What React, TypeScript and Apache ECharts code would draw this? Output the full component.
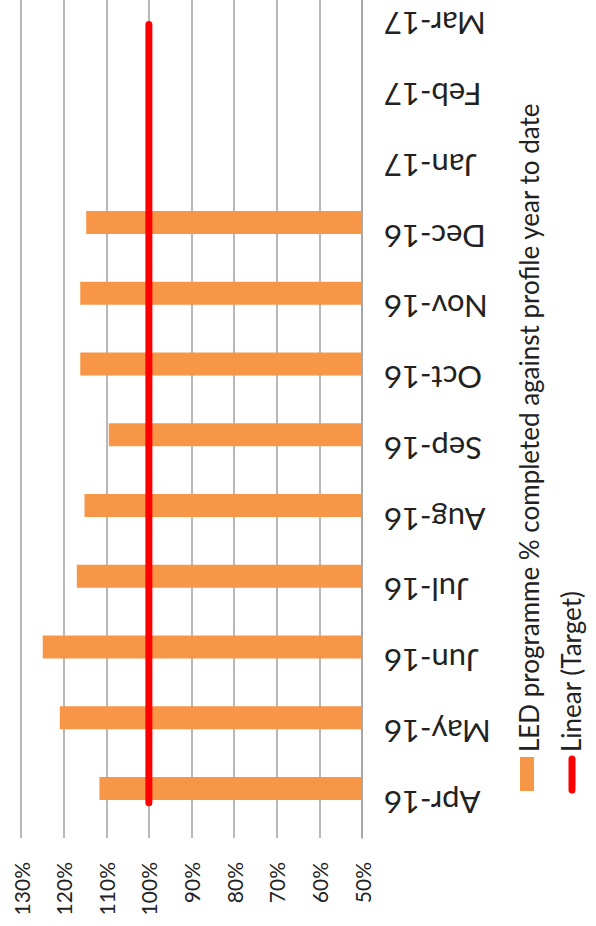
import React, { useEffect, useRef } from "react";
import * as echarts from "echarts";

const categories = ["Apr-16", "May-16", "Jun-16", "Jul-16", "Aug-16", "Sep-16", "Oct-16", "Nov-16", "Dec-16", "Jan-17", "Feb-17", "Mar-17"];
const ledValues = [111.6, 120.9, 124.9, 116.9, 115.1, 109.4, 116.1, 116.1, 114.7, null, null, null];
const targetValues = [100, 100, 100, 100, 100, 100, 100, 100, 100, 100, 100, 100];
const ledName = "LED programme % completed against profile year to date";
const targetName = "Linear (Target)";
const axisMin = 50;
const axisMax = 130;
const axisStep = 10;

const FONT = "Lato, 'Noto Sans', sans-serif";
const SHIFT = 11; // chart canvas starts above the visible page (plot area is cropped at the top)

export default function App() {
  const ref = useRef<HTMLDivElement>(null);
  useEffect(() => {
    if (!ref.current) return;
    const chart = echarts.init(ref.current, undefined, { renderer: "svg" });
    chart.setOption({
      animation: false,
      backgroundColor: "#ffffff",
      grid: { left: 21, right: 234, top: 0, bottom: 88, containLabel: false },
      xAxis: {
        type: "value",
        inverse: true,
        min: axisMin,
        max: axisMax,
        interval: axisStep,
        position: "bottom",
        axisLine: { show: false },
        axisTick: { show: false },
        splitLine: { show: true, lineStyle: { color: "#a0a0a0", width: 1.5 } },
        axisLabel: {
          rotate: 90,
          margin: 24,
          formatter: "{value}%",
          fontFamily: FONT,
          fontSize: 21,
          color: "#222",
        },
      },
      yAxis: {
        type: "category",
        position: "right",
        data: categories,
        boundaryGap: true,
        axisLine: { show: true, lineStyle: { color: "#a0a0a0", width: 1.5 } },
        axisTick: { show: false },
        splitLine: { show: false },
        axisLabel: {
          rotate: 180,
          margin: 22,
          fontFamily: FONT,
          fontSize: 31,
          color: "#222",
          interval: 0,
        },
      },
      series: [
        {
          name: ledName,
          type: "bar",
          data: ledValues,
          barWidth: 23,
          barGap: "22%",
          itemStyle: { color: "#F79646" },
        },
        {
          name: "Target",
          type: "bar",
          data: targetValues,
          barWidth: 23,
          barGap: "22%",
          itemStyle: { color: "rgba(0,0,0,0)" },
          silent: true,
        },
        {
          name: targetName,
          type: "line",
          data: targetValues,
          symbol: "none",
          lineStyle: { color: "#FF0000", width: 7, cap: "round" },
          z: 5,
        },
      ],
      graphic: [
        { type: "rect", shape: { x: 520, y: 757 + SHIFT, width: 14, height: 34 }, style: { fill: "#F79646" } },
        { type: "line", shape: { x1: 572, y1: 759 + SHIFT, x2: 572, y2: 790 + SHIFT }, style: { stroke: "#FF0000", lineWidth: 7, lineCap: "round" } },
        {
          type: "text",
          x: 529,
          y: 752 + SHIFT,
          rotation: Math.PI / 2,
          style: { text: ledName, font: `26px ${FONT}`, fill: "#222", textAlign: "left", textVerticalAlign: "middle" },
        },
        {
          type: "text",
          x: 571,
          y: 752 + SHIFT,
          rotation: Math.PI / 2,
          style: { text: targetName, font: `26px ${FONT}`, fill: "#222", textAlign: "left", textVerticalAlign: "middle" },
        },
      ],
    });
    return () => chart.dispose();
  }, []);
  return <div ref={ref} style={{ position: "fixed", left: 0, top: -SHIFT, width: 596, height: 926 + SHIFT }} />;
}
